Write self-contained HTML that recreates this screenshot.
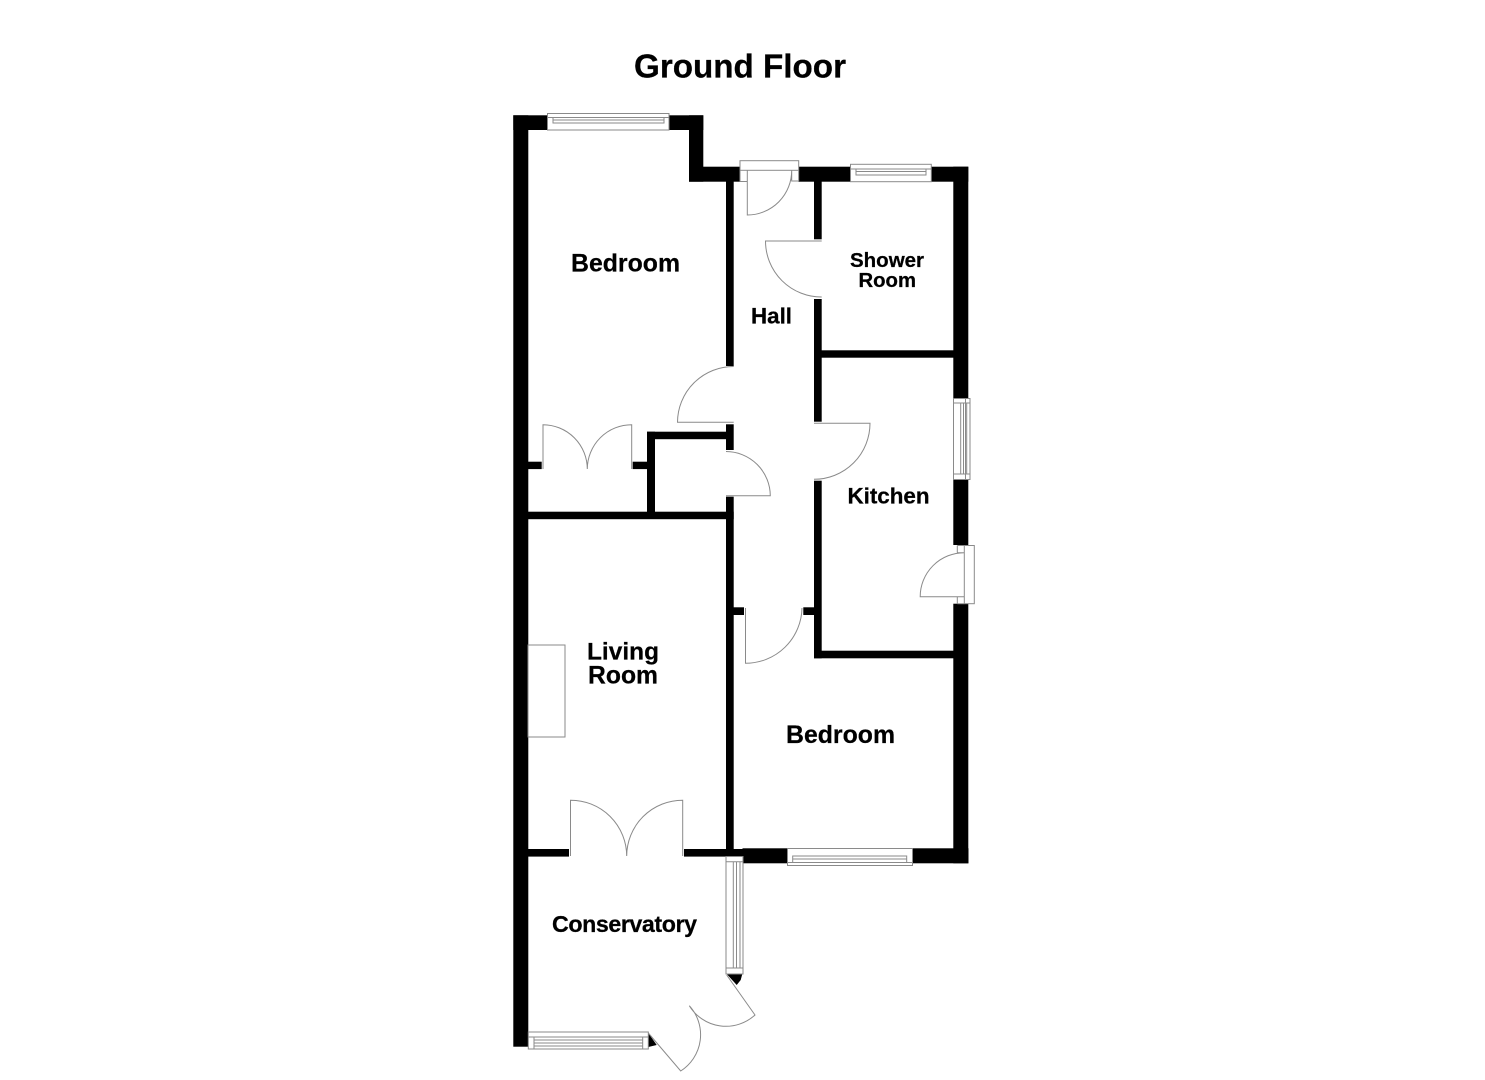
<!DOCTYPE html>
<html>
<head>
<meta charset="utf-8">
<title>Ground Floor</title>
<style>
html,body{margin:0;padding:0;background:#fff;width:1485px;height:1080px;overflow:hidden}
svg{display:block}
text{font-family:"Liberation Sans",sans-serif;font-weight:bold;fill:#000;stroke:#000;stroke-width:.25}
.w rect,.w polygon{fill:#000;stroke:none}
.l{fill:none;stroke:#8a8a8a;stroke-width:1}
.f{fill:#fff;stroke:#8a8a8a;stroke-width:1}
</style>
</head>
<body>
<svg width="1485" height="1080" viewBox="0 0 1485 1080" xmlns="http://www.w3.org/2000/svg">
<rect width="1485" height="1080" fill="#fff"/>

<g class="w">
<!-- outer left -->
<rect x="513.3" y="115.3" width="15" height="931.4"/>
<!-- top left -->
<rect x="513.3" y="115.3" width="34.5" height="14.7"/>
<rect x="669" y="115.3" width="34.3" height="14.7"/>
<rect x="689" y="115.3" width="14.3" height="66.4"/>
<rect x="689" y="166.7" width="51" height="15"/>
<!-- top right -->
<rect x="798.5" y="166.7" width="52" height="15"/>
<rect x="931" y="166.7" width="37.3" height="15"/>
<!-- outer right -->
<rect x="953.3" y="166.7" width="15" height="231.6"/>
<rect x="953.3" y="479.5" width="15" height="65.5"/>
<rect x="953.3" y="603.7" width="15" height="259.6"/>
<!-- hall left wall -->
<rect x="726" y="181" width="7.7" height="185"/>
<rect x="726" y="424.3" width="7.7" height="25.7"/>
<rect x="726" y="496.7" width="7.7" height="359"/>
<!-- cupboard -->
<rect x="647" y="431.7" width="80" height="7.5"/>
<rect x="647" y="431.7" width="8" height="81"/>
<rect x="528" y="511.7" width="205.7" height="7.5"/>
<!-- wardrobe stubs -->
<rect x="528" y="461.7" width="13.7" height="7.4"/>
<rect x="632.7" y="461.7" width="15" height="7.4"/>
<!-- hall right wall -->
<rect x="814" y="181" width="7.7" height="58.3"/>
<rect x="814" y="299" width="7.7" height="122.7"/>
<rect x="814" y="480.7" width="7.7" height="177.6"/>
<!-- shower/kitchen -->
<rect x="821" y="350.3" width="133" height="7.4"/>
<!-- kitchen/bedroom -->
<rect x="814" y="650.7" width="140" height="7.6"/>
<!-- bedroom door stubs -->
<rect x="733" y="607.3" width="11" height="7.7"/>
<rect x="803.3" y="607.3" width="11" height="7.7"/>
<!-- bottom -->
<rect x="528" y="849" width="41" height="7.6"/>
<rect x="684" y="849" width="60" height="7.6"/>
<rect x="742.5" y="848.3" width="45" height="15"/>
<rect x="912.5" y="848.3" width="56" height="15"/>
<!-- conservatory ends -->
<polygon points="726.7,974 742.3,974 740.7,980 736.7,985"/>
<polygon points="648.3,1033 656.7,1045 648.3,1047"/>
</g>

<!-- Top bedroom window -->
<rect class="f" x="547.5" y="113.5" width="121.5" height="16.5"/>
<path class="l" d="M547.5 117.5H669M553 117.5V123H664V117.5M553 120H664"/>

<!-- Front door frame -->
<rect class="f" x="740" y="160.7" width="58.7" height="9.6"/>
<path class="l" d="M740 170.3V181.5H747.3M798.7 170.3V181M791.7 170.3V181H798.7M747.3 170.3V215A44.5 44.5 0 0 0 791.7 170.3"/>

<!-- Shower window -->
<rect class="f" x="850.5" y="164.3" width="80.8" height="17.4"/>
<path class="l" d="M850.5 169H931.3M856 169V175H926V169M856 171.5H926"/>

<!-- Shower door -->
<path class="l" d="M821.7 241H765.5A56 56 0 0 0 821.7 297"/>

<!-- Kitchen window -->
<rect class="f" x="953.5" y="398.5" width="16.5" height="81"/>
<path class="l" d="M965.5 398.5V479.5M960.7 403H966.7V474H960.7ZM963.5 403V474M953.5 403H970M953.5 474H970"/>

<!-- Bedroom door from hall -->
<path class="l" d="M733.7 366.5A56 56 0 0 0 677.5 422.3H733.7"/>
<!-- Cupboard door -->
<path class="l" d="M726 451.5A44.5 44.5 0 0 1 770.3 495.7H726"/>
<!-- Wardrobe doors -->
<path class="l" d="M543 469V424.7A44.5 44.5 0 0 1 587.3 469A44.5 44.5 0 0 1 631.7 424.7V469"/>
<!-- Kitchen door -->
<path class="l" d="M814 423.3H870A56 56 0 0 1 814 479.3"/>

<!-- Kitchen back door -->
<rect class="f" x="964.3" y="545.5" width="10" height="58.2"/>
<path class="l" d="M957.3 545.5H964.3M957.3 545.5V552.7H964.3M957.3 603.7H964.3M957.3 603.7V596.7M964.3 596.7H920.2A44 44 0 0 1 964.3 552.7"/>

<!-- Lower bedroom door -->
<path class="l" d="M745.5 608V663.3A56.5 56.5 0 0 0 802 608"/>

<!-- Fireplace -->
<rect class="l" x="528" y="645" width="37" height="92"/>

<!-- French doors -->
<path class="l" d="M570.5 856V800.2A56 56 0 0 1 626.7 856A56 56 0 0 1 682.7 800.2V856"/>

<!-- Lower bedroom window -->
<rect class="f" x="787.5" y="848.5" width="125" height="17"/>
<path class="l" d="M787.5 862.5H912.5M792.7 862.5V856H906.7V862.5M792.7 859H906.7"/>

<!-- Conservatory side window -->
<rect class="f" x="726" y="856.5" width="17" height="117.5"/>
<path class="l" d="M733.3 861.7H740V968H733.3ZM736.5 861.7V968M726 968H743M726 861.7H743"/>

<!-- Conservatory bottom window -->
<rect class="f" x="528.3" y="1032" width="120" height="17"/>
<path class="l" d="M528.3 1037H648.3M534 1040H642.7V1046H534ZM534 1043H642.7M534 1037V1049M642.7 1037V1049"/>

<!-- Conservatory doors -->
<path class="l" d="M726.7 975L755 1015A43 43 0 0 1 689.3 1005.7A43 43 0 0 1 680.7 1071L648.3 1033"/>

<!-- Labels -->
<text x="634" y="77.5" font-size="33.2" textLength="212">Ground Floor</text>
<text x="571" y="271.5" font-size="24.8" textLength="109">Bedroom</text>
<text x="751" y="323.5" font-size="22.3" textLength="41">Hall</text>
<text x="850" y="267" font-size="20.5" textLength="74">Shower</text>
<text x="858.5" y="287" font-size="20.3" textLength="57.5">Room</text>
<text x="847.5" y="503.5" font-size="22.4" textLength="82">Kitchen</text>
<text x="587" y="659.5" font-size="24.4" textLength="72">Living</text>
<text x="588" y="683.5" font-size="24.7" textLength="70">Room</text>
<text x="786" y="743" font-size="24.8" textLength="109">Bedroom</text>
<text x="552" y="932" font-size="23.2" textLength="145">Conservatory</text>
</svg>
</body>
</html>
